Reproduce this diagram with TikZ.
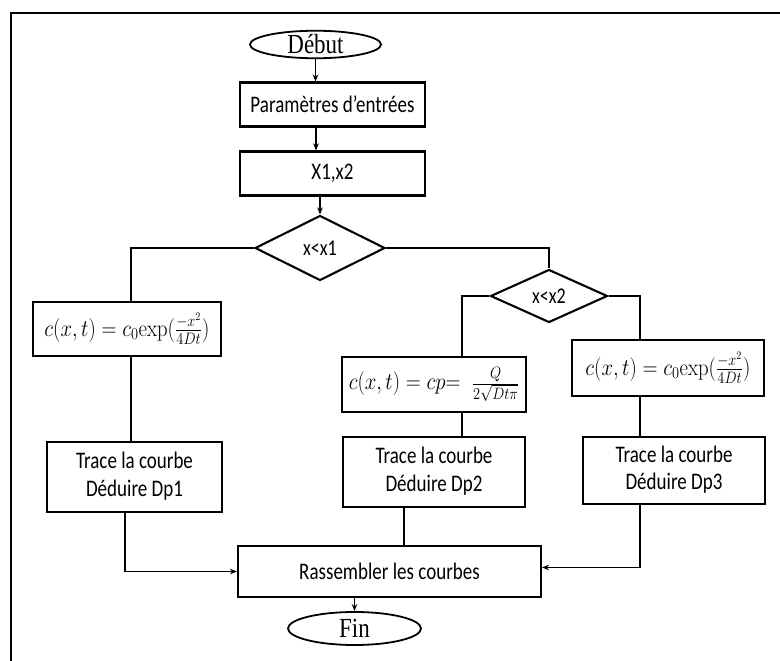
\documentclass[tikz,border=0pt]{standalone}
\usepackage[no-math]{fontspec}
\setmainfont{Carlito}
\newfontfamily\serifA{Liberation Serif}
\usetikzlibrary{shapes.geometric,arrows.meta}
\newcommand{\vstretch}[2][1.25]{\scalebox{1}[#1]{#2}}
\newcommand{\twolines}[2]{\vstretch{\begin{tabular}{@{}c@{}}#1\\#2\end{tabular}}}
\begin{document}
\begin{tikzpicture}[x=1pt,y=-1pt,
  box/.style={draw, line width=2.1pt, rectangle, inner sep=0pt, align=center, font=\fontsize{19}{22}\selectfont},
  fbox/.style={box, font=\fontsize{20}{24}\selectfont},
  term/.style={draw, line width=1.8pt, ellipse, inner sep=0pt, font=\serifA\fontsize{23}{28}\selectfont},
  dec/.style={draw, line width=2.1pt, diamond, inner sep=0pt, aspect=2, font=\fontsize{18}{20}\selectfont},
  conn/.style={line width=1.4pt},
  arr/.style={conn, -{Stealth[length=7pt,width=5.5pt]}},
  frame/.style={line width=1.8pt}
]
\useasboundingbox (0,0) rectangle (780,661);
\draw[frame] (11,662) -- (11,13) -- (781,13);

\node[term, minimum width=131pt, minimum height=27pt] (debut) at (315.5,44.5) {\vstretch[1.2]{Début}};
\node[box, minimum width=185pt, minimum height=44pt] (param) at (332.5,104.5) {\vstretch{Paramètres d’entrées}};
\node[box, minimum width=185pt, minimum height=44pt] (x12) at (332.5,173.5) {\vstretch{X1,x2}};
\node[dec, minimum width=130pt, minimum height=65pt] (d1) at (320,248) {\vstretch{x<x1}};
\node[dec, minimum width=117pt, minimum height=53pt] (d2) at (549,296) {\vstretch{x<x2}};
\node[fbox, minimum width=188pt, minimum height=54pt] (f1) at (127,329) {\vstretch[1.15]{$c(x,t) = c_0\mathrm{exp}(\frac{-x^2}{4Dt})$}};
\node[fbox, minimum width=184pt, minimum height=55pt] (f2) at (434,384.5) {\vstretch[1.15]{$c(x,t) = cp{=}\;\;\frac{\raisebox{1.5pt}{$\scriptstyle Q$}}{2\sqrt{Dt\pi}}$}};
\node[fbox, minimum width=192pt, minimum height=56pt] (f3) at (668,368) {\vstretch[1.15]{$c(x,t) = c_0\mathrm{exp}(\frac{-x^2}{4Dt})$}};
\node[box, minimum width=175pt, minimum height=70pt] (t1) at (134.5,477) {\twolines{Trace la courbe}{Déduire Dp1}};
\node[box, minimum width=182pt, minimum height=70pt] (t2) at (434,472) {\twolines{Trace la courbe}{Déduire Dp2}};
\node[box, minimum width=182pt, minimum height=67pt] (t3) at (674,470.5) {\twolines{Trace la courbe}{Déduire Dp3}};
\node[box, minimum width=303pt, minimum height=51pt] (ras) at (389.5,571.5) {\vstretch{Rassembler les courbes}};
\node[term, minimum width=133pt, minimum height=33pt] (fin) at (354.5,628.5) {\vstretch[1.2]{Fin}};

\draw[arr] (debut.south) -- (debut.south |- param.north);
\draw[arr] ([xshift=-16.5pt]param.south) -- ([xshift=-16.5pt]x12.north);
\draw[arr] ([xshift=-12.5pt]x12.south) -- (d1.north);
\draw[conn] (d1.west) -| ([xshift=4pt]f1.north);
\draw[conn] (d1.east) -| (d2.north);
\draw[conn] (d2.west) -| ([xshift=28pt]f2.north);
\draw[conn] (d2.east) -| ([xshift=-28pt]f3.north);
\draw[conn] ([xshift=4pt]f1.south) -- ([xshift=4pt]f1.south |- t1.north);
\draw[conn] ([xshift=28pt]f2.south) -- ([xshift=28pt]t2.north);
\draw[conn] ([xshift=-28pt]f3.south) -- ([xshift=-28pt]f3.south |- t3.north);
\draw[arr] ([xshift=-9.5pt]t1.south) |- (ras.west);
\draw[conn] ([xshift=-30pt]t2.south) -- ([xshift=-30pt]t2.south |- ras.north);
\draw[arr] ([xshift=-34pt]t3.south) |- ([yshift=4pt]ras.east);
\draw[arr] ([xshift=-35pt]ras.south) -- (fin.north);
\end{tikzpicture}
\end{document}
